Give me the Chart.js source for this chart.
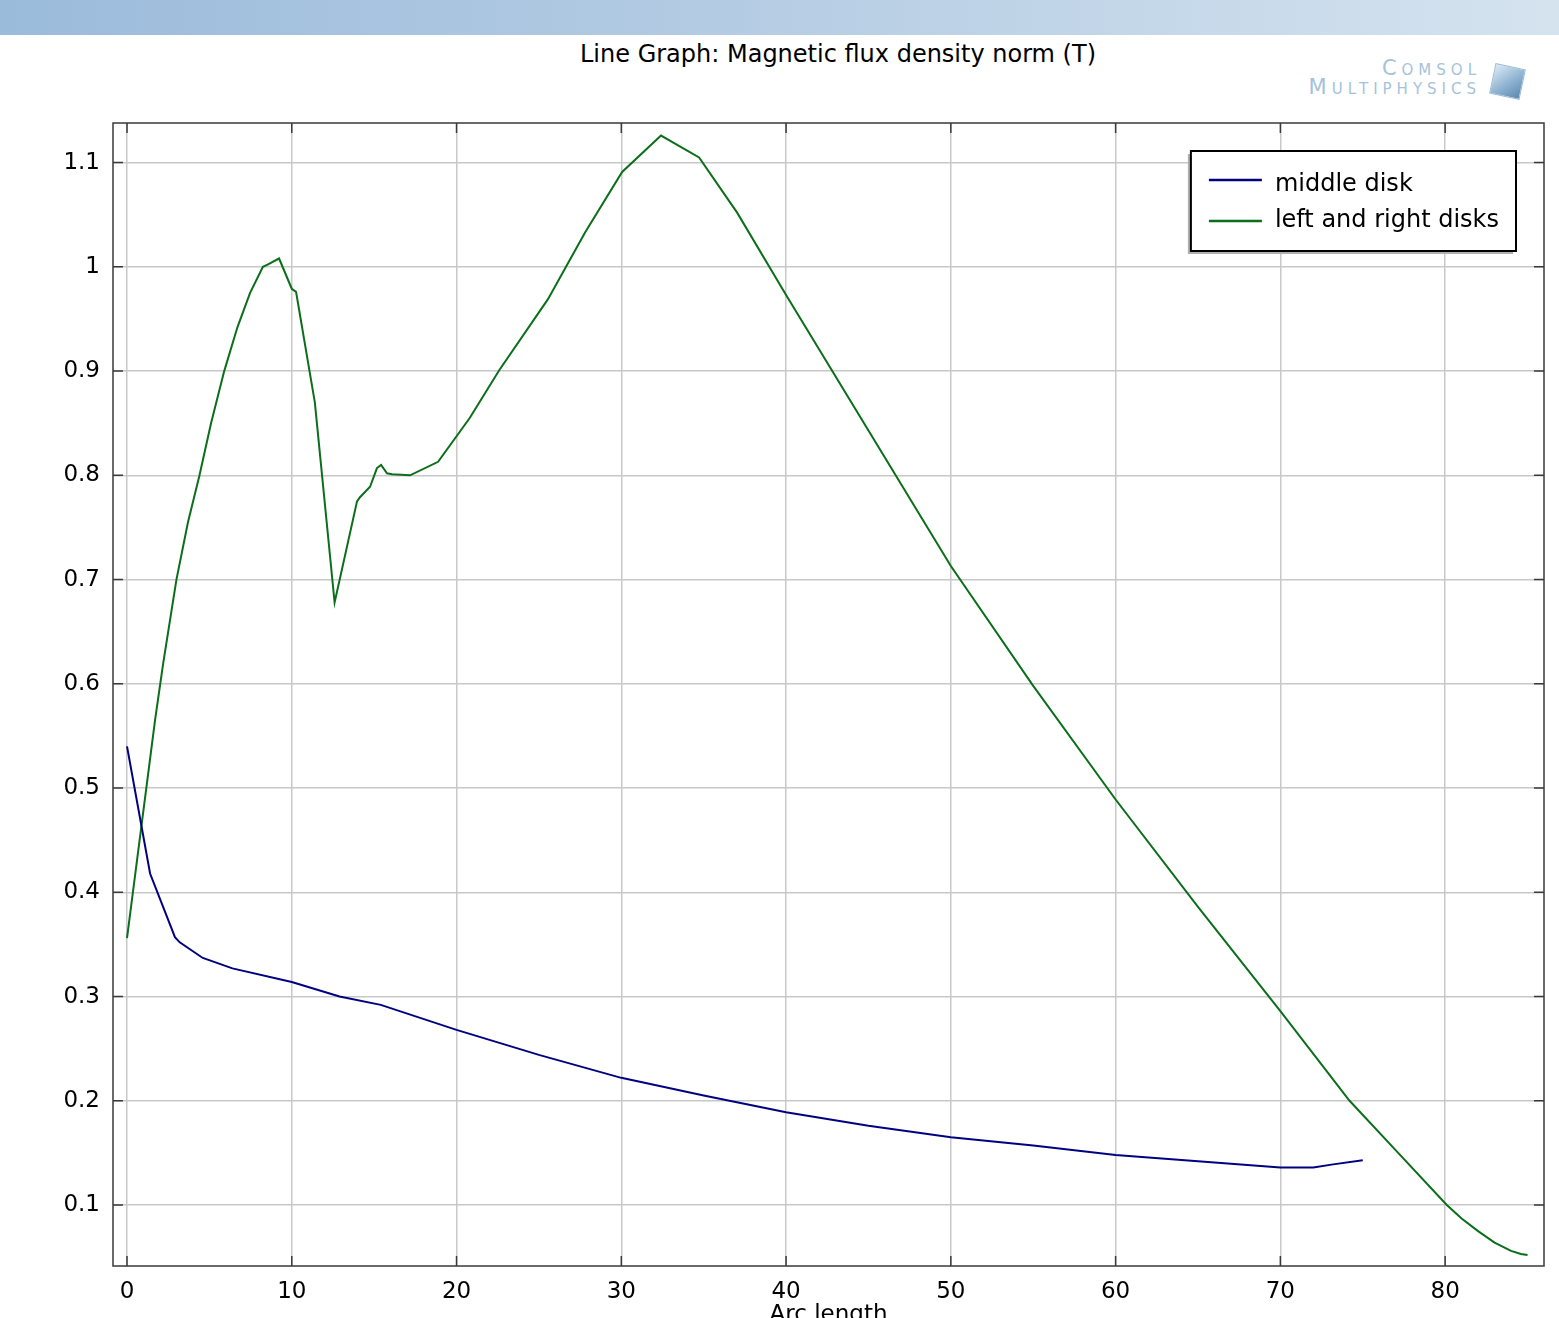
<!DOCTYPE html>
<html>
<head>
<meta charset="utf-8">
<title>Line Graph: Magnetic flux density norm (T)</title>
<script src="https://cdn.jsdelivr.net/npm/chart.js@4.4.1/dist/chart.umd.min.js"></script>
<style>
html, body { margin: 0; padding: 0; background: #fff; overflow: hidden; }
body { width: 1559px; height: 1318px; position: relative; font-family: "DejaVu Sans", sans-serif; }
#banner { position: absolute; left: 0; top: 0; width: 1559px; height: 35px;
  background: linear-gradient(to right, #9bbbdb, #b3cbe3 45%, #d5e3ef); }
#title { position: absolute; left: 0; top: 40px; width: 1676px; text-align: center;
  font-size: 24px; line-height: 28px; color: #000; }
#logo { position: absolute; right: 78px; top: 59px; text-align: right; color: #a6c2db;
  font-variant: small-caps; font-size: 21px; line-height: 19px; letter-spacing: 5px; }
#cube { position: absolute; left: 1492px; top: 66px; width: 29px; height: 29px; transform: rotate(12deg);
  background: linear-gradient(135deg, #dceaf5, #8fb3d2 55%, #5d88b0); border: 1px solid #9bbad4; }
#chart { position: absolute; left: 0; top: 0; }
</style>
</head>
<body>
<div id="banner"></div>
<div id="title">Line Graph: Magnetic flux density norm (T)</div>
<div id="logo">Comsol<br>Multiphysics</div>
<div id="cube"></div>
<canvas id="chart" width="1559" height="1329"></canvas>
<script>
// arc length values and flux density norm (T)
const middleX = [0, 1.4, 2.91, 3.2, 4.6, 6.4, 10, 12.9, 15.4, 20, 25, 30, 35, 40, 45, 50, 55, 60, 65, 70, 72, 73.2, 75];
const middleY = [0.540, 0.418, 0.357, 0.352, 0.337, 0.327, 0.314, 0.300, 0.292, 0.268, 0.244, 0.222, 0.205, 0.189, 0.176, 0.165, 0.157, 0.148, 0.142, 0.136, 0.136, 0.139, 0.143];

const sideX = [0, 1.7, 2.2, 2.7, 3.0, 3.7, 4.4, 5.1, 5.9, 6.7, 7.47, 8.25, 8.5, 9.23, 10.0, 10.26, 11.4, 12.6, 13.96, 14.14, 14.75, 15.17, 15.42, 15.78, 16.08, 17.18, 18.88, 20.8, 22.6, 25.55, 27.8, 30.05, 32.41, 34.72, 37.03, 40, 45, 50, 55, 60, 65, 70, 74.2, 77.15, 80.1, 81, 82, 83, 84, 84.6, 85.0];
const sideY = [0.356, 0.565, 0.620, 0.670, 0.700, 0.755, 0.800, 0.850, 0.900, 0.942, 0.975, 1.000, 1.002, 1.008, 0.979, 0.976, 0.870, 0.678, 0.775, 0.779, 0.789, 0.807, 0.810, 0.802, 0.801, 0.800, 0.813, 0.855, 0.901, 0.969, 1.033, 1.091, 1.126, 1.105, 1.052, 0.973, 0.843, 0.713, 0.598, 0.489, 0.386, 0.286, 0.200, 0.150, 0.100, 0.087, 0.075, 0.064, 0.056, 0.053, 0.052];

const xTicks = [0, 10, 20, 30, 40, 50, 60, 70, 80];
const yTicks = [0.1, 0.2, 0.3, 0.4, 0.5, 0.6, 0.7, 0.8, 0.9, 1, 1.1];

const seriesNames = ["middle disk", "left and right disks"];
const seriesColors = ["#000080", "#0b6e1b"];

function points(xs, ys) {
    return xs.map((x, i) => ({ x: x, y: ys[i] }));
}

const tickFont = { family: "DejaVu Sans", size: 23 };

// box round the plot, inward ticks on all four sides, legend inside
const frame = {
    id: "frame",
    afterDraw(chart) {
        const ctx = chart.ctx;
        const a = chart.chartArea;
        const sx = chart.scales.x, sy = chart.scales.y;
        ctx.save();
        ctx.strokeStyle = "#3a3a3a";
        ctx.lineWidth = 1.5;
        ctx.strokeRect(a.left, a.top, a.right - a.left, a.bottom - a.top);
        ctx.beginPath();
        sx.ticks.forEach(t => {
            const px = sx.getPixelForValue(t.value);
            ctx.moveTo(px, a.bottom); ctx.lineTo(px, a.bottom - 10);
            ctx.moveTo(px, a.top); ctx.lineTo(px, a.top + 10);
        });
        sy.ticks.forEach(t => {
            const py = sy.getPixelForValue(t.value);
            ctx.moveTo(a.left, py); ctx.lineTo(a.left + 10, py);
            ctx.moveTo(a.right, py); ctx.lineTo(a.right - 10, py);
        });
        ctx.stroke();

        // legend
        ctx.font = "24px 'DejaVu Sans'";
        const labels = chart.data.datasets.map(d => d.label);
        const w = Math.max(...labels.map(l => ctx.measureText(l).width));
        const boxW = 18 + 53 + 13 + w + 17;
        const boxH = 100;
        const bx = a.right - 28 - boxW, by = a.top + 28;
        ctx.fillStyle = "#b0b0b0";
        ctx.fillRect(bx - 3, by + 3, boxW, boxH);
        ctx.fillStyle = "#fff";
        ctx.fillRect(bx, by, boxW, boxH);
        ctx.strokeStyle = "#000";
        ctx.lineWidth = 2;
        ctx.strokeRect(bx, by, boxW, boxH);
        ctx.textBaseline = "middle";
        chart.data.datasets.forEach((d, i) => {
            const ly = by + 29 + i * 41;
            ctx.strokeStyle = d.borderColor;
            ctx.lineWidth = 2.5;
            ctx.beginPath();
            ctx.moveTo(bx + 18, ly); ctx.lineTo(bx + 71, ly);
            ctx.stroke();
            ctx.fillStyle = "#000";
            ctx.fillText(d.label, bx + 84, by + 33.5 + i * 36);
        });
        ctx.restore();
    }
};

const ctx = document.getElementById("chart").getContext("2d");
const chart = new Chart(ctx, {
    type: "scatter",
    data: {
        datasets: [
            { label: seriesNames[0], data: points(middleX, middleY), borderColor: seriesColors[0] },
            { label: seriesNames[1], data: points(sideX, sideY), borderColor: seriesColors[1] }
        ]
    },
    options: {
        responsive: false,
        animation: false,
        showLine: true,
        elements: {
            point: { radius: 0 },
            line: { borderWidth: 2, tension: 0, fill: false }
        },
        layout: { padding: { top: 123, right: 15, left: 0, bottom: 0 } },
        plugins: {
            legend: { display: false },
            tooltip: { enabled: false }
        },
        scales: {
            x: {
                type: "linear",
                min: -0.85,
                max: 86,
                afterBuildTicks: s => { s.ticks = xTicks.map(v => ({ value: v })); },
                afterFit: s => { s.height = 63; },
                border: { display: false },
                grid: { color: "#c8c8c8", lineWidth: 1.5, drawTicks: false },
                ticks: { font: tickFont, color: "#000", padding: 12, maxRotation: 0, autoSkip: false },
                title: { display: true, text: "Arc length", font: tickFont, color: "#000", padding: 0 }
            },
            y: {
                min: 0.0415,
                max: 1.138,
                afterBuildTicks: s => { s.ticks = yTicks.map(v => ({ value: v })); },
                afterFit: s => { s.width = 113; },
                border: { display: false },
                grid: { color: "#c8c8c8", lineWidth: 1.5, drawTicks: false },
                ticks: { font: tickFont, color: "#000", padding: 13, autoSkip: false,
                    callback: v => String(Math.round(v * 10) / 10) }
            }
        }
    },
    plugins: [frame]
});
</script>
</body>
</html>
